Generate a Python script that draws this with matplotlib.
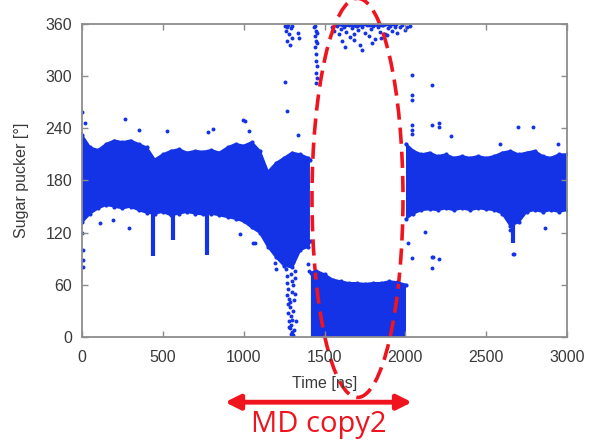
import matplotlib
matplotlib.use("Agg")
import matplotlib.pyplot as plt
import numpy as np
from matplotlib.patches import Ellipse

plt.rcParams['font.family'] = ['Liberation Sans', 'DejaVu Sans']

# ---- data: sugar pucker phase along the trajectory -----------------------
# dense cloud before the transition (time [ns], upper / lower edge [deg])
pre_t = [0, 50, 100, 150, 200, 250, 300, 350, 400, 450, 500, 550, 600, 650,
         700, 750, 800, 850, 900, 950, 1000, 1050, 1100, 1150, 1200, 1250,
         1300, 1350, 1400, 1410]
pre_hi = [232, 218, 215, 222, 226, 224, 226, 222, 218, 204, 210, 214, 216,
          212, 214, 213, 215, 212, 218, 222, 220, 224, 214, 190, 200, 206,
          212, 210, 206, 204]
pre_lo = [132, 142, 148, 152, 150, 148, 150, 146, 143, 142, 144, 140, 142,
          144, 142, 141, 142, 140, 138, 136, 133, 126, 120, 104, 92, 82,
          80, 100, 104, 110]

# C3'-endo-like state during the excursion (bottom band)
low_t = [1416, 1450, 1500, 1550, 1600, 1650, 1700, 1750, 1800, 1850, 1900,
         1950, 2004]
low_hi = [74, 76, 72, 66, 64, 62, 62, 61, 62, 62, 64, 63, 60]

# wrapped part of the same state near 360
top_t = [1580, 1620, 1660, 1700, 1740, 1780, 1820, 1860, 1900, 1940]
top_lo = [358, 356, 357, 355, 358, 356, 357, 356, 358, 357]

# dense cloud after the transition
post_t = [2004, 2050, 2100, 2150, 2200, 2250, 2300, 2350, 2400, 2450, 2500,
          2550, 2600, 2650, 2700, 2750, 2800, 2850, 2900, 2950, 3000]
post_hi = [222, 214, 210, 212, 208, 210, 206, 208, 206, 208, 206, 208, 212,
           214, 210, 212, 214, 208, 206, 210, 210]
post_lo = [136, 142, 146, 147, 146, 148, 146, 148, 146, 148, 147, 146, 142,
           128, 132, 144, 146, 144, 146, 144, 146]

# narrow downward excursions
spike_t = [440, 563, 775, 2665]
spike_lo = [93, 111, 94, 108]

# isolated frames
sparse_t = [
    # transition streak towards 0
    1262, 1270, 1265, 1275, 1268, 1280, 1272, 1285, 1277, 1290, 1282, 1295,
    1287, 1300, 1292, 1305, 1310, 1298, 1306, 1312, 1300, 1308, 1315, 1293,
    1284, 1320, 1318, 1325, 1260, 1289, 1296, 1279, 1303, 1395, 1402,
    # early jumps to 360
    1258, 1262, 1270, 1275, 1282, 1290, 1296, 1266, 1300, 1286, 1335, 1342,
    1255, 1265, 1338,
    # streak at ~1445 ns
    1440, 1445, 1442, 1448, 1444, 1450, 1446, 1452, 1448, 1455, 1450, 1438,
    1456, 1452,
    # scatter in the 360 band
    1545, 1560, 1575, 1590, 1600, 1610, 1620, 1635, 1650, 1660, 1670, 1685,
    1700, 1710, 1720, 1735, 1750, 1760, 1775, 1790, 1800, 1815, 1830, 1845,
    1860, 1875, 1890, 1905, 1920, 1935, 1950, 1965, 1980, 1995, 2010, 2030,
    1625, 1680, 1730, 1795, 1850, 1885, 1640, 1762,
    # outliers around the first cloud
    0, 3, 5, 8, 4, 19, 266, 1008, 810, 526, 780, 1033, 353, 291, 977, 1058,
    111, 193, 1194, 1070, 1200, 995,
    # outliers after the transition
    2041, 2041, 2041, 2041, 2041, 2041, 2165, 2208, 2017, 2041, 2165, 2165,
    2208, 2122, 2667, 2864, 2165, 2208, 2697, 2790, 2282, 2586, 2944, 2170,
    2672, 2650,
]
sparse_y = [
    78, 70, 62, 55, 48, 44, 38, 34, 28, 24, 18, 14,
    10, 6, 3, 2, 8, 20, 30, 42, 52, 60, 68, 72,
    84, 76, 50, 18, 88, 40, 64, 12, 86, 84, 76,
    358, 352, 356, 359, 348, 355, 344, 340, 358, 336, 350, 344,
    293, 260, 232,
    358, 352, 346, 340, 333, 326, 318, 312, 304, 298, 292, 356,
    350, 338,
    356, 352, 358, 348, 354, 340, 357, 351, 359, 345, 355, 349,
    358, 353, 336, 357, 350, 359, 346, 354, 358, 343, 356, 351,
    359, 348, 355, 358, 352, 357, 350, 356, 359, 353, 357, 358,
    333, 342, 330, 338, 344, 347, 360, 360,
    259, 120, 100, 88, 80, 246, 251, 248, 239, 237, 236, 237, 238, 125, 118,
    108, 131, 134, 85, 108, 78, 250,
    301, 278, 273, 244, 238, 233, 290, 241, 108, 91, 92, 79,
    90, 121, 96, 125, 244, 246, 242, 242, 231, 222, 222, 92,
    95, 123,
]

BLUE = '#1433e6'
RED = '#f0141e'
GRAY = '#8c8c8c'


def band(ax, t, lo, hi):
    # one dense cloud as a closed polygon with a dotted, ragged outline
    t = np.asarray(t, float)
    lo = np.broadcast_to(np.asarray(lo, float), t.shape)
    hi = np.broadcast_to(np.asarray(hi, float), t.shape)
    ax.fill(np.r_[t, t[::-1]], np.r_[hi, lo[::-1]], color=BLUE, lw=0)
    ax.plot(t, hi, color=BLUE, lw=1.6)
    ax.scatter(t, hi, s=9, color=BLUE, lw=0)


fig = plt.figure(figsize=(5.9, 4.44), dpi=100)
ax = fig.add_axes([82 / 590, 1 - 337 / 444, 485 / 590, 313 / 444])

band(ax, pre_t, pre_lo, pre_hi)
ax.plot(pre_t, pre_lo, color=BLUE, lw=1.6)
ax.scatter(pre_t, pre_lo, s=9, color=BLUE, lw=0)
band(ax, low_t, 0, low_hi)
band(ax, top_t, top_lo, 360)
band(ax, post_t, post_lo, post_hi)
ax.plot(post_t, post_lo, color=BLUE, lw=1.6)
ax.scatter(post_t, post_lo, s=9, color=BLUE, lw=0)

# short excursions below the main band
base = np.interp(spike_t, pre_t + post_t, pre_lo + post_lo)
ax.vlines(spike_t, spike_lo, base, color=BLUE, lw=3)

ax.scatter(sparse_t, sparse_y, s=8, color=BLUE, lw=0)

ax.set_xlim(0, 3000)
ax.set_ylim(0, 360)
ax.set_xticks([0, 500, 1000, 1500, 2000, 2500, 3000])
ax.set_yticks([0, 60, 120, 180, 240, 300, 360])
ax.tick_params(direction='in', length=4, width=1, color=GRAY,
               top=True, right=True, labelsize=11.5, labelcolor='#3a3a3a')
ax.tick_params(axis='x', pad=9)
ax.tick_params(axis='y', pad=7)
for sp in ax.spines.values():
    sp.set_color(GRAY)
    sp.set_linewidth(1.3)

ax.set_xlabel('Time [ns]', fontsize=11.5, color='#3a3a3a', labelpad=8)
ax.set_ylabel('Sugar pucker [°]', fontsize=11.5, color='#3a3a3a', labelpad=12)

# highlight of the MD copy2 excursion
ell = Ellipse((1704, 160), 563, 459, fill=False, ec=RED, lw=2.6,
              ls=(0, (4.5, 2.2)), clip_on=False)
ax.add_patch(ell)
ax.annotate('', xy=(885, -75), xytext=(2041, -75), annotation_clip=False,
            arrowprops=dict(arrowstyle='<|-|>', color=RED, lw=3.5,
                            mutation_scale=22, shrinkA=0, shrinkB=0))
ax.text(1466, -101, 'MD copy2', color=RED, fontsize=21, ha='center',
        va='center', family=['Open Sans', 'DejaVu Sans'])

fig.savefig('out.png', dpi=100)
